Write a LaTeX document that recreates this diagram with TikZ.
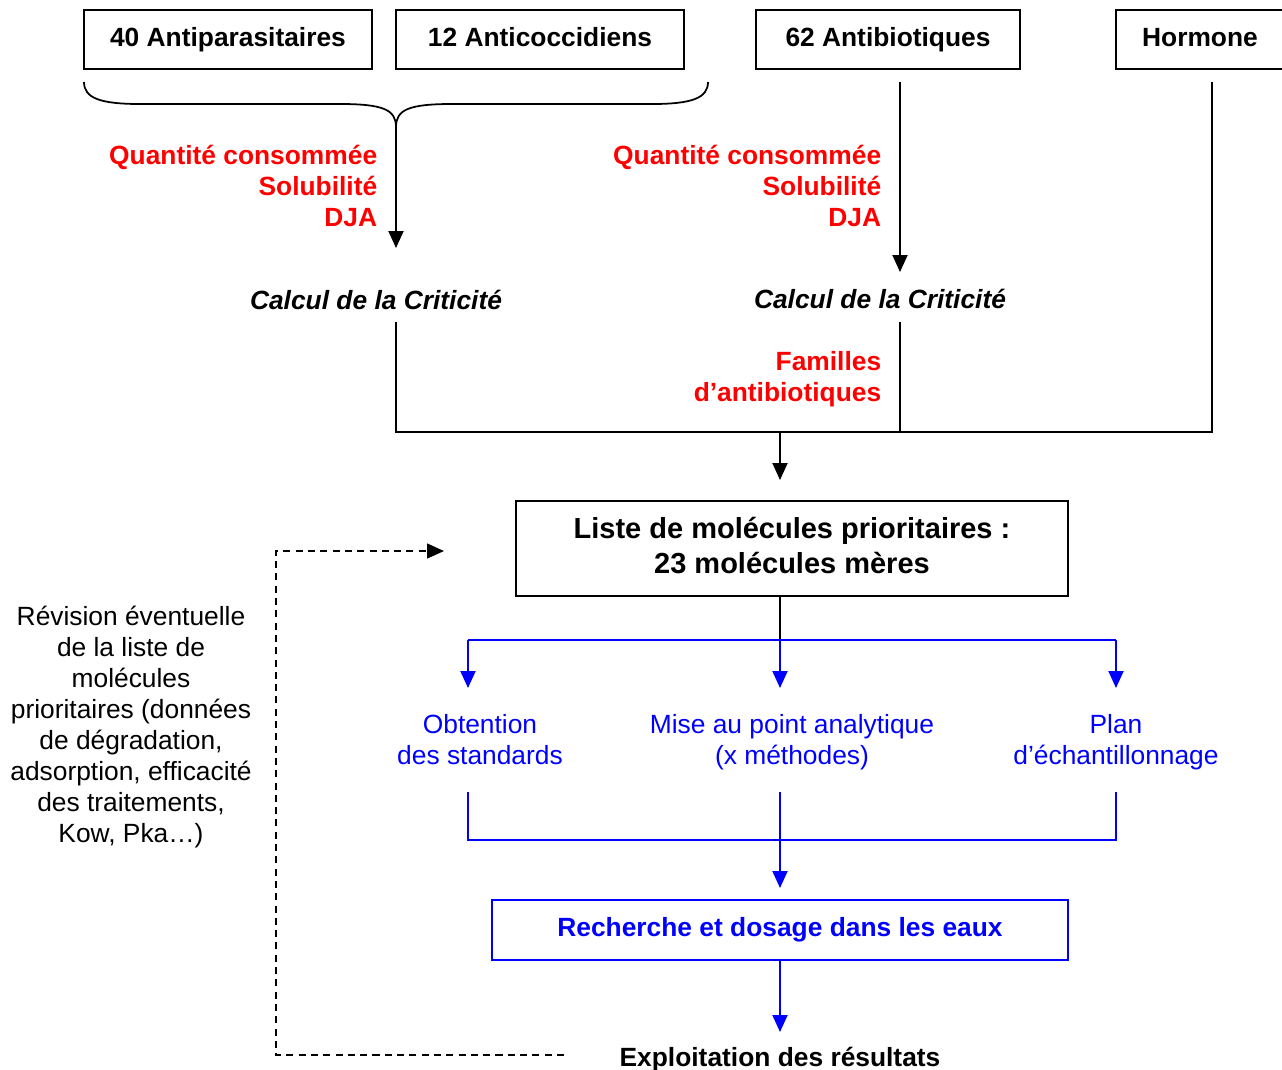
\documentclass[tikz,border=0pt]{standalone}
\usepackage{fontspec}
\setmainfont{Liberation Sans}
\usetikzlibrary{positioning,arrows.meta}

\begin{document}
\begin{tikzpicture}[x=0.02cm, y=-0.02cm, line width=1.1pt,
    every node/.style={font=\fontsize{15}{17.6}\selectfont},
    famille/.style={draw, line width=1.1pt, minimum height=1.18cm, text height=11pt, text depth=3.2pt,
        font=\fontsize{15}{17.6}\selectfont\bfseries},
    critere/.style={text=red, align=right, anchor=east, font=\fontsize{15}{17.6}\selectfont\bfseries},
    calcul/.style={font=\fontsize{15}{17.6}\selectfont\bfseries\itshape},
    etape/.style={text=blue, align=center},
    fleche/.style={-{Triangle[length=3.4mm,width=3mm]}}]
    \useasboundingbox (0,0) rectangle (1282,1069);
    % familles de molecules
    \node[famille, minimum width=5.76cm] (apar) at (228,39.5) {40 Antiparasitaires};
    \node[famille, minimum width=5.76cm] (acoc) at (540,39.5) {12 Anticoccidiens};
    \node[famille, minimum width=5.28cm] (abio) at (888,39.5) {62 Antibiotiques};
    \node[famille, minimum width=3.36cm] (horm) at (1200,39.5) {Hormone};
    \coordinate (pointe) at (396,127);
    \coordinate (abiohaut) at (900,82);
    \coordinate (hormhaut) at (1212,82);
    % accolade
    \draw[line width=1pt] (84,82) .. controls (84,98) and (100,104) .. (140,104) -- (340,104)
        .. controls (384,104) and (396,110) .. (pointe)
        .. controls (396,110) and (408,104) .. (452,104) -- (652,104)
        .. controls (692,104) and (708,98) .. (708,82);
    \node[critere] (crit1) at (384,186) {Quantité consommée\\Solubilité\\DJA};
    \node[critere] (crit2) at (888,186) {Quantité consommée\\Solubilité\\DJA};
    \node[calcul] (calc1) at (376,300) {Calcul de la Criticité};
    \node[calcul] (calc2) at (880,299) {Calcul de la Criticité};
    \coordinate (fin1) at (396,248);
    \coordinate (fin2) at (900,272);
    \draw[fleche] (pointe) -- (fin1);
    \draw[fleche] (abiohaut) -- (fin2);
    \node[critere] (fam) at (888,379.5) {Familles\\d'antibiotiques};
    % regroupement
    \coordinate (calc1bas) at (396,322);
    \coordinate (calc2bas) at (900,322);
    \coordinate (jonction) at (780,432);
    \coordinate (fin3) at (780,480);
    \draw (calc1bas) -- (calc1bas |- jonction) -| (hormhaut);
    \draw (calc2bas) -- (calc2bas |- jonction);
    \draw[fleche] (jonction) -- (fin3);
    \node[draw, minimum width=11.04cm, minimum height=1.9cm] (liste) at (792,548.5) {};
    \node[align=center, font=\fontsize{16.5}{19.8}\selectfont\bfseries] (listetxt) at (792,545.5)
        {Liste de molécules prioritaires :\\23 molécules mères};
    % etapes analytiques
    \coordinate (branche) at (780,640);
    \coordinate (rep1) at (468,688);
    \coordinate (rep2) at (780,688);
    \coordinate (rep3) at (1116,688);
    \draw (liste.south -| branche) -- (branche);
    \draw[blue] (rep1 |- branche) -- (rep3 |- branche);
    \draw[blue, fleche] (rep1 |- branche) -- (rep1);
    \draw[blue, fleche] (branche) -- (rep2);
    \draw[blue, fleche] (rep3 |- branche) -- (rep3);
    \node[etape] (std) at (480,739.5) {Obtention\\des standards};
    \node[etape] (meth) at (792,742.5) {Mise au point analytique\\(x méthodes)};
    \node[etape] (plan) at (1116,742.5) {Plan\\d'échantillonnage};
    \coordinate (std1) at (468,792);
    \coordinate (meth1) at (780,792);
    \coordinate (plan1) at (1116,792);
    \coordinate (fin4) at (780,888);
    \draw[blue] (std1) |- (780,840) -| (plan1);
    \draw[blue, fleche] (meth1) -- (fin4);
    \node[draw=blue, text=blue, minimum width=11.52cm, minimum height=1.2cm,
        font=\fontsize{15}{17.6}\selectfont\bfseries] (rech) at (780,930) {Recherche et dosage dans les eaux};
    \coordinate (fin5) at (780,1032);
    \draw[blue, fleche] (rech.south) -- (fin5);
    \node[anchor=base, font=\fontsize{15}{17.6}\selectfont\bfseries] (expl) at (780,1066) {Exploitation des résultats};
    % retour
    \node[align=center] (revis) at (131,727) {Révision éventuelle\\de la liste de\\molécules\\prioritaires (données\\de dégradation,\\adsorption, efficacité\\des traitements,\\Kow, Pka…)};
    \coordinate (ret1) at (564,1055);
    \coordinate (ret2) at (276,551);
    \coordinate (ret3) at (444,551);
    \draw[line width=0.8pt, dash pattern=on 4pt off 3pt, fleche] (ret1) -| (ret2) -- (ret3);
\end{tikzpicture}
\end{document}
